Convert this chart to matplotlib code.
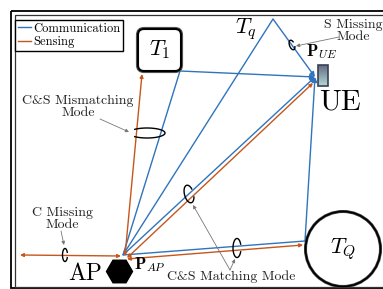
import matplotlib
matplotlib.use('Agg')
import matplotlib.pyplot as plt
from matplotlib.patches import Rectangle, FancyBboxPatch, Circle, RegularPolygon, Arc
import numpy as np

plt.rcParams['font.family'] = ['cmr10', 'DejaVu Serif']
plt.rcParams['mathtext.fontset'] = 'cm'
plt.rcParams['axes.unicode_minus'] = False

# node positions (pixel space of the drawing)
AP = (123, 255)
T1_corner = (180, 71)
TQ_edge = (305, 241)
Tq_apex = (273, 19)
UE = (315, 77)
sense_up = (142, 74)
sense_left = (20, 255)

# links
comm_plain = [(AP, T1_corner), (AP, Tq_apex), (AP, TQ_edge)]
comm_to_ue = [(T1_corner, UE), (Tq_apex, UE), (AP, UE), (TQ_edge, UE)]
sense_links = [((125, 256), sense_up), ((121, 256), sense_left),
               ((127, 258), (313, 83)), ((127, 259), (303, 245))]

blue = '#2f74bd'
orange = '#c6561b'

fig = plt.figure(figsize=(3.83, 2.89), dpi=100)
ax = fig.add_axes([0, 0, 1, 1])
ax.set_xlim(0, 383)
ax.set_ylim(289, 0)
ax.axis('off')

# frame
ax.add_patch(Rectangle((11, 11), 420, 277, fill=False, lw=1.3, ec='black'))
ax.add_patch(Rectangle((14.5, 14.5), 420, 272, fill=False, lw=0.9, ec='#333333'))

for a, b in comm_plain:
    ax.plot([a[0], b[0]], [a[1], b[1]], color=blue, lw=1.0, solid_capstyle='butt')
for a, b in comm_to_ue:
    ax.annotate('', xy=b, xytext=a,
                arrowprops=dict(arrowstyle='-|>', color=blue, lw=1.0,
                                mutation_scale=7, shrinkA=0, shrinkB=0))
for a, b in sense_links:
    ax.annotate('', xy=b, xytext=a,
                arrowprops=dict(arrowstyle='<|-|>', color=orange, lw=1.0,
                                mutation_scale=5, shrinkA=0, shrinkB=0))

# targets
ax.add_patch(FancyBboxPatch((141, 32), 37, 36, boxstyle='round,pad=3,rounding_size=6',
                            fc='white', ec='#555555', lw=3.0, zorder=5))
ax.add_patch(FancyBboxPatch((141, 32), 37, 36, boxstyle='round,pad=3,rounding_size=6',
                            fc='white', ec='black', lw=1.5, zorder=5))
ax.text(160, 50, r'$T_1$', fontsize=16, ha='center', va='center', zorder=6)
ax.text(246, 29, r'$T_q$', fontsize=16, ha='center', va='center')
ax.add_patch(Circle((343, 249), 37.5, fc='white', ec='#444444', lw=2.2, zorder=5))
ax.add_patch(Circle((343, 249), 37.5, fill=False, ec='black', lw=1.2, zorder=5))
ax.text(343, 249, r'$T_Q$', fontsize=16, ha='center', va='center', zorder=6)

# UE device
ue_grad = np.linspace(0.45, 0.8, 20).reshape(-1, 1)
ax.imshow(ue_grad, cmap='bone', extent=(318, 328, 86, 65), aspect='auto', zorder=4,
          vmin=0, vmax=1)
ax.add_patch(Rectangle((318, 65), 10, 21, fill=False, ec='#3a4150', lw=1.2, zorder=5))
ax.text(340, 102, 'UE', fontsize=21, ha='center', va='center')
ax.text(321, 52, r'$\mathbf{P}_{UE}$', fontsize=12, ha='center', va='center')

# AP
ax.add_patch(RegularPolygon((119.5, 271.5), 6, radius=13, orientation=np.pi / 6,
                            fc='black', ec='black', zorder=5))
ax.text(85, 274, 'AP', fontsize=17, ha='center', va='center')
ax.text(150, 265, r'$\mathbf{P}_{AP}$', fontsize=12, ha='center', va='center')

# curl marks
curls = [((147, 133), 36, 10, 0, 195, 525),
         ((65, 255), 5, 13, 0, 40, 320),
         ((292, 45), 5, 10, -20, 40, 320),
         ((189, 194), 9, 18, -15, 40, 320),
         ((237, 248), 8, 19, 0, 40, 320)]
for c, w, h, ang, t1, t2 in curls:
    ax.add_patch(Arc(c, w, h, angle=ang, theta1=t1, theta2=t2, color='black', lw=1.0, zorder=6))

# annotations
ann = dict(arrowstyle='-|>', color='#777777', lw=0.6, mutation_scale=5, shrinkA=0, shrinkB=0)
ax.text(78, 107, 'C&S Mismatching\nMode', fontsize=10, ha='center', va='center',
        linespacing=0.9, color='#222222')
ax.annotate('', xy=(129, 132), xytext=(100, 119), arrowprops=ann)
ax.text(62, 219, 'C Missing\nMode', fontsize=10, ha='center', va='center',
        linespacing=0.9, color='#222222')
ax.annotate('', xy=(64, 245), xytext=(61, 231), arrowprops=ann)
ax.text(353, 31, 'S Missing\nMode', fontsize=10, ha='center', va='center',
        linespacing=0.9, color='#222222')
ax.annotate('', xy=(296, 46), xytext=(339, 37), arrowprops=ann)
ax.text(231, 277, 'C&S Matching Mode', fontsize=10, ha='center', va='center', color='#222222')
ax.annotate('', xy=(193, 205), xytext=(230, 270), arrowprops=ann)
ax.annotate('', xy=(235, 259), xytext=(230, 270), arrowprops=ann)

# legend
ax.plot([], [], color=blue, lw=1.0, label='Communication')
ax.plot([], [], color=orange, lw=1.0, label='Sensing')
leg = ax.legend(loc='upper left', bbox_to_anchor=(15 / 383, 1 - 20 / 289), fontsize=9,
                frameon=True, fancybox=False, edgecolor='black', framealpha=1,
                handlelength=1.1, handletextpad=0.15, borderpad=0.2, labelspacing=0.1,
                borderaxespad=0)
leg.get_frame().set_linewidth(1.0)

fig.savefig('out.png', dpi=100)
